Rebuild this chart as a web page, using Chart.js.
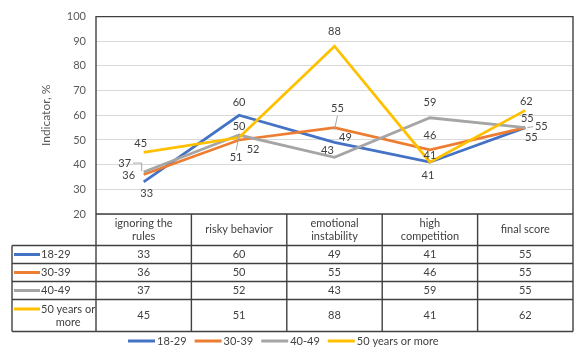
<!DOCTYPE html>
<html>
<head>
<meta charset="utf-8">
<script src="https://cdn.jsdelivr.net/npm/chart.js@4/dist/chart.umd.min.js"></script>
<style>
  html, body { margin: 0; padding: 0; background: #fff; }
  #wrap { width: 574px; height: 347px; position: relative; }
</style>
</head>
<body>
<div id="wrap"><canvas id="c" width="574" height="347"></canvas></div>
<script>
// Categories (header lines of the data table)
const categories = [
  ['ignoring the', 'rules'],
  ['risky behavior'],
  ['emotional', 'instability'],
  ['high', 'competition'],
  ['final score']
];

// Age groups
const seriesNames = ['18-29', '30-39', '40-49', '50 years or more'];
const seriesTableNames = [['18-29'], ['30-39'], ['40-49'], ['50 years or', 'more']];

// Indicator values, %
const values1829 = [33, 60, 49, 41, 55];
const values3039 = [36, 50, 55, 46, 55];
const values4049 = [37, 52, 43, 59, 55];
const values50plus = [45, 51, 88, 41, 62];

// Y axis ticks
const yMin = 20;
const yMax = 100;
const yStep = 10;

const seriesValues = [values1829, values3039, values4049, values50plus];
const seriesColors = ['#4472C4', '#ED7D31', '#A5A5A5', '#FFC000'];

// Value label placement relative to each point: [dx, dy, leader]
const labelPlacement = [
  [[3, 12], [0, -13], [11, -5], [-2, 13], [6, 10]],
  [[-15, 1], [0, -14], [3, -19, true], [0, -14], [2, -9]],
  [[-19, -9, 'elbow'], [14, 14], [-7, -7], [0, -15], [16, -1, true]],
  [[-3, -9], [-3, 20, true], [0, -15], [0, -7], [1, -9]]
];

const FONT = 'Lato, "Open Sans", "Liberation Sans", sans-serif';
const TEXT = '#404040';
const LINE = '#404040';

const valueLabels = {
  id: 'valueLabels',
  afterDatasetsDraw(chart) {
    const ctx = chart.ctx;
    ctx.save();
    ctx.font = '11px ' + FONT;
    ctx.textAlign = 'center';
    ctx.textBaseline = 'middle';
    chart.data.datasets.forEach((ds, di) => {
      const meta = chart.getDatasetMeta(di);
      meta.data.forEach((pt, i) => {
        const p = labelPlacement[di][i];
        const lx = pt.x + p[0], ly = pt.y + p[1];
        if (p[2]) {
          ctx.strokeStyle = '#a6a6a6';
          ctx.lineWidth = 1;
          ctx.beginPath();
          if (p[2] === 'elbow') {
            ctx.moveTo(lx + 8, ly);
            ctx.lineTo(pt.x - 2, ly);
            ctx.lineTo(pt.x - 2, pt.y - 1);
          } else if (Math.abs(p[0]) > Math.abs(p[1])) {
            ctx.moveTo(lx - Math.sign(p[0]) * 8, ly);
            ctx.lineTo(pt.x + Math.sign(p[0]) * 2, pt.y);
          } else {
            ctx.moveTo(lx, ly - Math.sign(p[1]) * 7);
            ctx.lineTo(pt.x, pt.y - Math.sign(p[1]) * 2);
          }
          ctx.stroke();
        }
        ctx.fillStyle = TEXT;
        ctx.fillText(String(ds.data[i]), lx, ly);
      });
    });
    ctx.restore();
  }
};

const dataTable = {
  id: 'dataTable',
  afterDraw(chart) {
    const ctx = chart.ctx;
    const a = chart.chartArea;
    const n = categories.length;
    const w = (a.right - a.left) / n;
    const tableLeft = 12;
    const headerBottom = a.bottom + 31.5;
    const rowH = [18, 18, 18, 32];
    const rowBottoms = [];
    let y = headerBottom;
    rowH.forEach(h => { y += h; rowBottoms.push(y); });
    const tableBottom = rowBottoms[rowBottoms.length - 1];

    ctx.save();
    ctx.strokeStyle = LINE;
    ctx.lineWidth = 1.4;
    ctx.beginPath();
    // plot frame
    ctx.moveTo(a.left, a.bottom); ctx.lineTo(a.left, a.top); ctx.lineTo(a.right, a.top); ctx.lineTo(a.right, a.bottom);
    // header top
    ctx.moveTo(a.left, a.bottom); ctx.lineTo(a.right, a.bottom);
    // column separators
    for (let k = 0; k <= n; k++) {
      const x = a.left + k * w;
      ctx.moveTo(x, a.bottom); ctx.lineTo(x, tableBottom);
    }
    // row lines
    ctx.moveTo(tableLeft, headerBottom); ctx.lineTo(a.right, headerBottom);
    rowBottoms.forEach(rb => { ctx.moveTo(tableLeft, rb); ctx.lineTo(a.right, rb); });
    ctx.moveTo(tableLeft, headerBottom); ctx.lineTo(tableLeft, tableBottom);
    ctx.stroke();

    ctx.font = '11px ' + FONT;
    ctx.fillStyle = TEXT;
    ctx.textAlign = 'center';
    ctx.textBaseline = 'middle';
    const xs = chart.scales.x;
    // header
    categories.forEach((lines, i) => {
      const cx = xs.getPixelForValue(i);
      const cy = (a.bottom + headerBottom) / 2;
      const lh = 13;
      lines.forEach((t, j) => {
        ctx.fillText(t, cx, cy + (j - (lines.length - 1) / 2) * lh);
      });
    });
    // rows
    let top = headerBottom;
    seriesValues.forEach((vals, r) => {
      const bottom = rowBottoms[r];
      const cy = (top + bottom) / 2;
      vals.forEach((v, i) => {
        ctx.textAlign = 'center';
        ctx.fillText(String(v), xs.getPixelForValue(i), cy);
      });
      // series key
      const lines = seriesTableNames[r];
      const sy = lines.length > 1 ? cy - 6.5 : cy;
      ctx.strokeStyle = seriesColors[r];
      ctx.lineWidth = 3;
      ctx.beginPath();
      ctx.moveTo(14, sy); ctx.lineTo(40, sy);
      ctx.stroke();
      ctx.textAlign = 'left';
      const w0 = ctx.measureText(lines[0]).width;
      ctx.fillText(lines[0], 41, sy);
      if (lines.length > 1) {
        ctx.textAlign = 'center';
        ctx.fillText(lines[1], 41 + w0 / 2, sy + 13);
      }
      top = bottom;
    });

    // legend
    let lx = 128;
    const ly = 341;
    ctx.textAlign = 'left';
    seriesNames.forEach((name, r) => {
      ctx.strokeStyle = seriesColors[r];
      ctx.lineWidth = 3;
      ctx.beginPath();
      ctx.moveTo(lx, ly); ctx.lineTo(lx + 27, ly);
      ctx.stroke();
      ctx.fillText(name, lx + 29, ly);
      lx += 29 + ctx.measureText(name).width + 8;
    });
    ctx.restore();
  }
};

new Chart(document.getElementById('c'), {
  type: 'line',
  data: {
    labels: categories,
    datasets: seriesNames.map((name, i) => ({
      label: name,
      data: seriesValues[i],
      borderColor: seriesColors[i],
      backgroundColor: seriesColors[i],
      borderWidth: 2.75,
      pointRadius: 0,
      tension: 0,
      order: seriesNames.length - i
    }))
  },
  options: {
    responsive: false,
    animation: false,
    layout: { padding: { top: 13, right: 1, bottom: 133, left: 0 } },
    plugins: {
      legend: { display: false },
      tooltip: { enabled: false }
    },
    scales: {
      x: {
        type: 'category',
        offset: true,
        display: false
      },
      y: {
        min: yMin,
        max: yMax,
        ticks: {
          stepSize: yStep,
          padding: 10,
          color: '#595959',
          font: { family: FONT, size: 11 }
        },
        grid: { color: '#d9d9d9', lineWidth: 1, drawTicks: false },
        border: { display: false },
        title: {
          display: true,
          text: 'Indicator, %',
          color: '#595959',
          font: { family: FONT, size: 12 },
          padding: { top: 39, bottom: 0 }
        },
        afterFit(scale) { scale.width = 96; }
      }
    }
  },
  plugins: [valueLabels, dataTable]
});
</script>
</body>
</html>
